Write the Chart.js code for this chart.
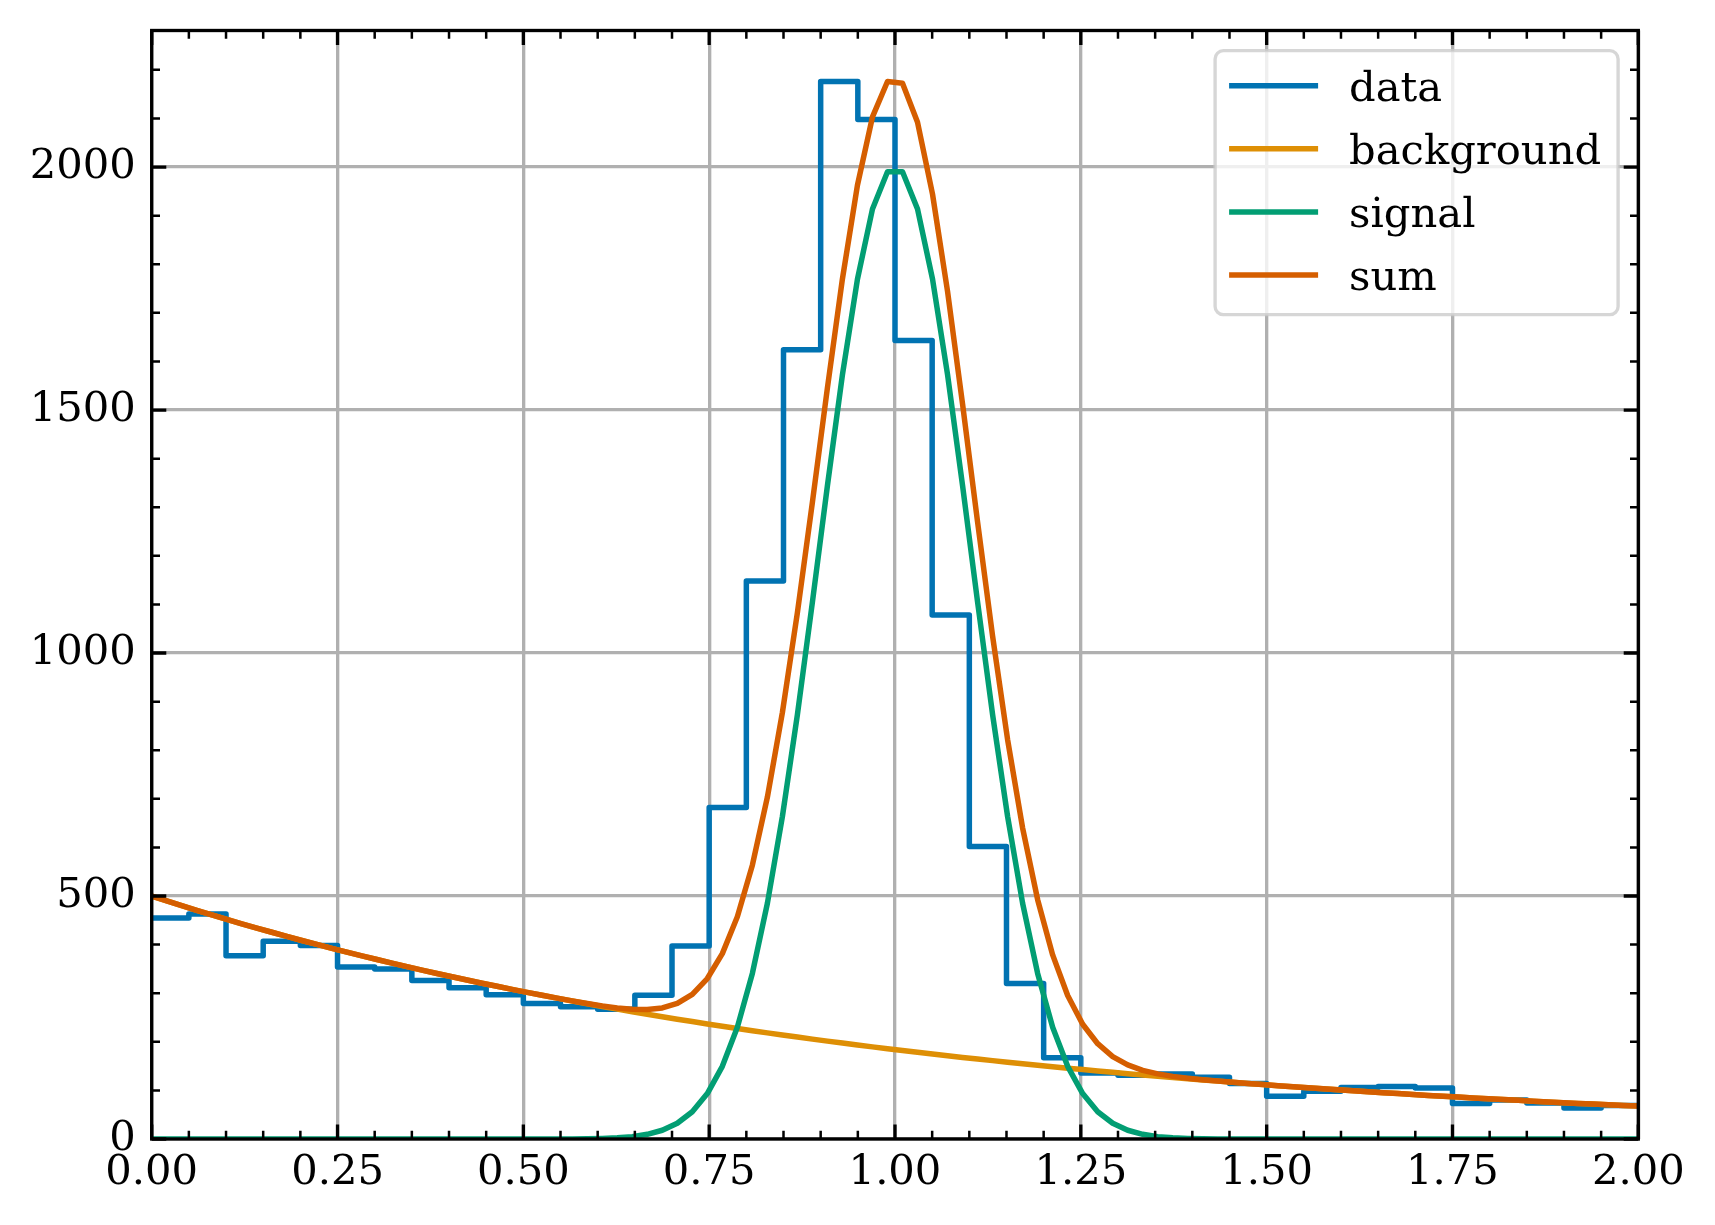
<!DOCTYPE html>
<html>
<head>
<meta charset="utf-8">
<script src="https://cdn.jsdelivr.net/npm/chart.js@4/dist/chart.umd.min.js"></script>
<style>
html, body { margin: 0; padding: 0; background: #ffffff; }
canvas { display: block; }
</style>
</head>
<body>
<canvas id="c" width="1715" height="1225"></canvas>
<script>
// ---------------- data ----------------
const binEdges = [
  0.00, 0.05, 0.10, 0.15, 0.20, 0.25, 0.30, 0.35, 0.40, 0.45,
  0.50, 0.55, 0.60, 0.65, 0.70, 0.75, 0.80, 0.85, 0.90, 0.95,
  1.00, 1.05, 1.10, 1.15, 1.20, 1.25, 1.30, 1.35, 1.40, 1.45,
  1.50, 1.55, 1.60, 1.65, 1.70, 1.75, 1.80, 1.85, 1.90, 1.95,
  2.00
];
const dataCounts = [
  455, 463, 377, 407, 398, 354, 350, 326, 311, 297,
  279, 272, 267, 296, 397, 682, 1148, 1624, 2176, 2098,
  1643, 1078, 602, 320, 167, 136, 131, 134, 127, 114,
  88, 98, 106, 108, 105, 73, 80, 74, 64, 69
];
const curveX = [
  0.0000, 0.0202, 0.0404, 0.0606, 0.0808, 0.1010, 0.1212, 0.1414, 0.1616, 0.1818,
  0.2020, 0.2222, 0.2424, 0.2626, 0.2828, 0.3030, 0.3232, 0.3434, 0.3636, 0.3838,
  0.4040, 0.4242, 0.4444, 0.4646, 0.4848, 0.5051, 0.5253, 0.5455, 0.5657, 0.5859,
  0.6061, 0.6263, 0.6465, 0.6667, 0.6869, 0.7071, 0.7273, 0.7475, 0.7677, 0.7879,
  0.8081, 0.8283, 0.8485, 0.8687, 0.8889, 0.9091, 0.9293, 0.9495, 0.9697, 0.9899,
  1.0101, 1.0303, 1.0505, 1.0707, 1.0909, 1.1111, 1.1313, 1.1515, 1.1717, 1.1919,
  1.2121, 1.2323, 1.2525, 1.2727, 1.2929, 1.3131, 1.3333, 1.3535, 1.3737, 1.3939,
  1.4141, 1.4343, 1.4545, 1.4747, 1.4949, 1.5152, 1.5354, 1.5556, 1.5758, 1.5960,
  1.6162, 1.6364, 1.6566, 1.6768, 1.6970, 1.7172, 1.7374, 1.7576, 1.7778, 1.7980,
  1.8182, 1.8384, 1.8586, 1.8788, 1.8990, 1.9192, 1.9394, 1.9596, 1.9798, 2.0000
];
const backgroundValues = [
  500.0, 490.0, 480.2, 470.6, 461.2, 452.0, 442.9, 434.1, 425.4, 416.9,
  408.5, 400.4, 392.4, 384.5, 376.8, 369.3, 361.9, 354.7, 347.6, 340.6,
  333.8, 327.2, 320.6, 314.2, 307.9, 301.7, 295.7, 289.8, 284.0, 278.3,
  272.7, 267.3, 261.9, 256.7, 251.6, 246.5, 241.6, 236.8, 232.0, 227.4,
  222.8, 218.4, 214.0, 209.7, 205.5, 201.4, 197.4, 193.4, 189.6, 185.8,
  182.1, 178.4, 174.8, 171.3, 167.9, 164.6, 161.3, 158.0, 154.9, 151.8,
  148.7, 145.8, 142.8, 140.0, 137.2, 134.4, 131.7, 129.1, 126.5, 124.0,
  121.5, 119.1, 116.7, 114.4, 112.1, 109.8, 107.6, 105.5, 103.4, 101.3,
  99.3, 97.3, 95.3, 93.4, 91.6, 89.7, 87.9, 86.2, 84.4, 82.8,
  81.1, 79.5, 77.9, 76.3, 74.8, 73.3, 71.8, 70.4, 69.0, 67.7
];
const signalValues = [
  0, 0, 0, 0, 0, 0, 0, 0, 0, 0,
  0, 0, 0, 0, 0, 0, 0, 0, 0, 0,
  0, 0, 0, 0, 0, 0, 0, 0, 0.2, 0.5,
  1.2, 2.4, 4.9, 9.6, 18.0, 32.4, 56.1, 93.4, 149.5, 230.1,
  340.7, 484.9, 663.6, 873.3, 1105.0, 1344.5, 1572.8, 1769.3, 1913.7, 1990.2,
  1990.2, 1913.7, 1769.3, 1572.8, 1344.5, 1105.0, 873.3, 663.6, 484.9, 340.7,
  230.1, 149.5, 93.4, 56.1, 32.4, 18.0, 9.6, 4.9, 2.4, 1.2,
  0.5, 0.2, 0, 0, 0, 0, 0, 0, 0, 0,
  0, 0, 0, 0, 0, 0, 0, 0, 0, 0,
  0, 0, 0, 0, 0, 0, 0, 0, 0, 0
];
const sumValues = [
  500.0, 490.0, 480.2, 470.6, 461.2, 452.0, 442.9, 434.1, 425.4, 416.9,
  408.5, 400.4, 392.4, 384.5, 376.8, 369.3, 361.9, 354.7, 347.6, 340.6,
  333.8, 327.2, 320.6, 314.2, 307.9, 301.7, 295.7, 289.8, 284.2, 278.8,
  273.9, 269.7, 266.8, 266.3, 269.6, 278.9, 297.7, 330.2, 381.5, 457.5,
  563.5, 703.3, 877.6, 1083.0, 1310.5, 1545.9, 1770.2, 1962.7, 2103.3, 2176.0,
  2172.3, 2092.1, 1944.1, 1744.1, 1512.4, 1269.6, 1034.6, 821.6, 639.8, 492.5,
  378.8, 295.3, 236.2, 196.1, 169.6, 152.4, 141.3, 134.0, 128.9, 125.2,
  122.0, 119.3, 116.7, 114.4, 112.1, 109.8, 107.6, 105.5, 103.4, 101.3,
  99.3, 97.3, 95.3, 93.4, 91.6, 89.7, 87.9, 86.2, 84.4, 82.8,
  81.1, 79.5, 77.9, 76.3, 74.8, 73.3, 71.8, 70.4, 69.0, 67.7
];
const seriesNames = ['data', 'background', 'signal', 'sum'];
const xTickValues = [0, 0.25, 0.5, 0.75, 1.0, 1.25, 1.5, 1.75, 2.0];
const xTickLabels = ['0.00', '0.25', '0.50', '0.75', '1.00', '1.25', '1.50', '1.75', '2.00'];
const yTickValues = [0, 500, 1000, 1500, 2000];
const yTickLabels = ['0', '500', '1000', '1500', '2000'];

// ---------------- styling ----------------
const COLORS = ['#0173B2', '#DE8F05', '#029E73', '#D55E00'];
const FONT_FAMILY = '"DejaVu Serif", "Liberation Serif", serif';
const FONT_SIZE = 41.67;
const LINE_W = 5.5;
const X_MIN = 0, X_MAX = 2, Y_MIN = 0, Y_MAX = 2281;

const histPoints = binEdges.map((e, i) => ({ x: e, y: dataCounts[Math.min(i, dataCounts.length - 1)] }));
const curvePoints = (arr) => curveX.map((x, i) => ({ x: x, y: arr[i] }));

const lineDefaults = {
  borderWidth: LINE_W,
  pointRadius: 0,
  pointHoverRadius: 0,
  tension: 0,
  fill: false,
  borderJoinStyle: 'round',
  clip: 0
};

// frame, inward ticks and legend
const frameAndLegend = {
  id: 'frameAndLegend',
  afterDatasetsDraw(chart) {
    const ctx = chart.ctx;
    const { left, right, top, bottom } = chart.chartArea;
    const xs = chart.scales.x, ys = chart.scales.y;
    const MAJ = 14.6, MIN = 8.3;
    ctx.save();
    ctx.strokeStyle = '#000';
    ctx.lineCap = 'butt';
    // x ticks
    for (let k = 0; k <= 40; k++) {
      const v = k * 0.05;
      const major = (k % 5 === 0);
      const len = major ? MAJ : MIN;
      ctx.lineWidth = major ? 3.33 : 2.5;
      const px = xs.getPixelForValue(v);
      ctx.beginPath();
      ctx.moveTo(px, bottom); ctx.lineTo(px, bottom - len);
      ctx.moveTo(px, top); ctx.lineTo(px, top + len);
      ctx.stroke();
    }
    // y ticks
    for (let v = 0; v <= Y_MAX; v += 100) {
      const major = (v % 500 === 0);
      const len = major ? MAJ : MIN;
      ctx.lineWidth = major ? 3.33 : 2.5;
      const py = ys.getPixelForValue(v);
      ctx.beginPath();
      ctx.moveTo(left, py); ctx.lineTo(left + len, py);
      ctx.moveTo(right, py); ctx.lineTo(right - len, py);
      ctx.stroke();
    }
    // frame
    ctx.lineWidth = 3.33;
    ctx.lineJoin = 'miter';
    ctx.strokeRect(left, top, right - left, bottom - top);

    // legend
    const boxW = 403, boxH = 264;
    const bx = right - 20.2 - boxW, by = top + 20.2;
    const r = 8.3;
    ctx.beginPath();
    ctx.moveTo(bx + r, by);
    ctx.lineTo(bx + boxW - r, by);
    ctx.arcTo(bx + boxW, by, bx + boxW, by + r, r);
    ctx.lineTo(bx + boxW, by + boxH - r);
    ctx.arcTo(bx + boxW, by + boxH, bx + boxW - r, by + boxH, r);
    ctx.lineTo(bx + r, by + boxH);
    ctx.arcTo(bx, by + boxH, bx, by + boxH - r, r);
    ctx.lineTo(bx, by + r);
    ctx.arcTo(bx, by, bx + r, by, r);
    ctx.closePath();
    ctx.fillStyle = 'rgba(255,255,255,0.8)';
    ctx.fill();
    ctx.strokeStyle = 'rgba(204,204,204,0.8)';
    ctx.lineWidth = 3.33;
    ctx.stroke();

    ctx.font = FONT_SIZE + 'px ' + FONT_FAMILY;
    ctx.textAlign = 'left';
    ctx.textBaseline = 'alphabetic';
    chart.data.datasets.forEach((ds, i) => {
      const cy = by + 35 + i * 63.1;
      ctx.strokeStyle = ds.borderColor;
      ctx.lineWidth = LINE_W;
      ctx.beginPath();
      ctx.moveTo(bx + 14, cy);
      ctx.lineTo(bx + 103, cy);
      ctx.stroke();
      ctx.fillStyle = '#000';
      ctx.fillText(ds.label, bx + 134, cy + 15);
    });
    ctx.restore();
  }
};

const chart = new Chart(document.getElementById('c'), {
  type: 'line',
  data: {
    datasets: [
      Object.assign({ label: seriesNames[0], data: histPoints, borderColor: COLORS[0], stepped: 'before', order: 4 }, lineDefaults),
      Object.assign({ label: seriesNames[1], data: curvePoints(backgroundValues), borderColor: COLORS[1], order: 3 }, lineDefaults),
      Object.assign({ label: seriesNames[2], data: curvePoints(signalValues), borderColor: COLORS[2], order: 2 }, lineDefaults),
      Object.assign({ label: seriesNames[3], data: curvePoints(sumValues), borderColor: COLORS[3], order: 1 }, lineDefaults)
    ]
  },
  options: {
    responsive: false,
    animation: false,
    events: [],
    layout: { padding: { left: 0, top: 30.5, right: 76.7, bottom: 0 } },
    plugins: { legend: { display: false }, tooltip: { enabled: false } },
    scales: {
      x: {
        type: 'linear',
        min: X_MIN, max: X_MAX,
        afterBuildTicks: (s) => { s.ticks = xTickValues.map(v => ({ value: v })); },
        afterFit: (s) => { s.height = 86; s.paddingLeft = 0; s.paddingRight = 0; },
        ticks: {
          callback: (v) => { const i = xTickValues.indexOf(v); return i >= 0 ? xTickLabels[i] : ''; },
          font: { family: FONT_FAMILY, size: FONT_SIZE },
          color: '#000',
          padding: 9,
          maxRotation: 0,
          autoSkip: false
        },
        grid: { color: '#b0b0b0', lineWidth: 3.33, drawTicks: false },
        border: { display: false }
      },
      y: {
        type: 'linear',
        min: Y_MIN, max: Y_MAX,
        afterBuildTicks: (s) => { s.ticks = yTickValues.map(v => ({ value: v })); },
        afterFit: (s) => { s.width = 151.7; s.paddingTop = 0; s.paddingBottom = 0; },
        ticks: {
          callback: (v) => { const i = yTickValues.indexOf(v); return i >= 0 ? yTickLabels[i] : ''; },
          font: { family: FONT_FAMILY, size: FONT_SIZE },
          color: '#000',
          padding: 16,
          autoSkip: false
        },
        grid: { color: '#b0b0b0', lineWidth: 3.33, drawTicks: false },
        border: { display: false }
      }
    }
  },
  plugins: [frameAndLegend]
});
</script>
</body>
</html>
